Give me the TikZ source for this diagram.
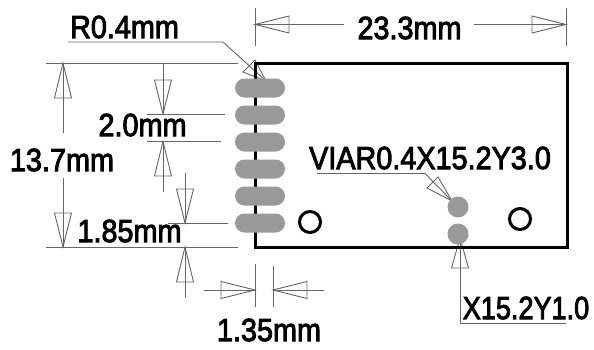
\documentclass[tikz,border=0pt]{standalone}
\usepackage{fontspec}
\setmainfont{Liberation Sans}[FakeBold=3]
\usepackage{tikz}

\begin{document}
\begin{tikzpicture}[x=1pt,y=-1pt,
  dim/.style = {draw=black!60,line width=0.9pt},
  head/.style = {draw=black!60,line width=0.9pt,line join=miter},
  label/.style = {inner sep=0pt,xscale=0.9,font=\fontsize{32}{32}\selectfont},
  pad/.style = {draw=none,fill=black!40,rounded corners=9.5pt,minimum width=50pt,minimum height=19pt,inner sep=0pt},
  via/.style = {circle,fill=black!40,minimum size=21pt,inner sep=0pt},
  hole/.style = {circle,draw,line width=3pt,minimum size=21pt,inner sep=0pt}]
\useasboundingbox (0,0) rectangle (594,349);
% leader to the corner
\coordinate (r0) at (68,42);
\coordinate (r1) at (223,42);
\coordinate (rtip) at (266,81);
\draw[dim] (r0) -- (r1) -- (rtip);
\draw[head] (rtip) -- (243,72) -- (255,60) -- cycle;
% via leaders
\coordinate (a0) at (317,173.5);
\coordinate (a1) at (425,173.5);
\coordinate (a2) at (452,201);
\draw[dim] (a0) -- (a1) -- (a2);
\draw[head] (a2) -- (438,177) -- (427,188) -- cycle;
\coordinate (b0) at (566,323);
\coordinate (b1) at (460,323);
\coordinate (b2) at (460,238);
\draw[dim] (b0) -- (b1) -- (b2);
\draw[head] (b2) -- (451.5,268) -- (468.5,268) -- cycle;
% board outline
\draw[line width=3pt] (255,63) rectangle (567,247);
% pads
\node[pad] (p1) at (260,88) {};
\node[pad] (p2) at (260,115) {};
\node[pad] (p3) at (260,142) {};
\node[pad] (p4) at (260,169) {};
\node[pad] (p5) at (260,196) {};
\node[pad] (p6) at (260,223) {};
% vias and holes
\node[via] (v1) at (458,207) {};
\node[via] (v2) at (458,234) {};
\node[hole] (h1) at (310,222) {};
\node[hole] (h2) at (520,219) {};
% 23.3mm
\draw[dim] (255,8) -- (255,46);
\draw[dim] (566,8) -- (566,46);
\draw[dim] (255,24.5) -- (344,24.5);
\draw[dim] (474,24.5) -- (566,24.5);
\draw[head] (255,24.5) -- (289,16) -- (289,33) -- cycle;
\draw[head] (566,24.5) -- (532,16) -- (532,33) -- cycle;
% 13.7mm
\draw[dim] (46,63) -- (238,63);
\draw[dim] (46,247) -- (238,247);
\draw[dim] (63,63) -- (63,133);
\draw[dim] (63,178) -- (63,247);
\draw[head] (63,63) -- (54.5,98) -- (71.5,98) -- cycle;
\draw[head] (63,247) -- (54.5,213) -- (71.5,213) -- cycle;
% 2.0mm
\draw[dim] (147,114) -- (225,114);
\draw[dim] (147,141.5) -- (221,141.5);
\draw[dim] (163,63) -- (163,114);
\draw[dim] (163,141.5) -- (163,192);
\draw[head] (163,114) -- (154.5,80) -- (171.5,80) -- cycle;
\draw[head] (163,141.5) -- (154.5,176) -- (171.5,176) -- cycle;
% 1.85mm
\draw[dim] (168,223) -- (228,223);
\draw[dim] (185,173) -- (185,223);
\draw[dim] (185,247) -- (185,298);
\draw[head] (185,223) -- (176.5,189) -- (193.5,189) -- cycle;
\draw[head] (185,247) -- (176.5,282) -- (193.5,282) -- cycle;
% 1.35mm
\draw[dim] (255,264) -- (255,307);
\draw[dim] (273,266) -- (273,307);
\draw[dim] (204,290) -- (255,290);
\draw[dim] (273,290) -- (324,290);
\draw[head] (255,290) -- (221,281.5) -- (221,298.5) -- cycle;
\draw[head] (273,290) -- (307,281.5) -- (307,298.5) -- cycle;
% labels
\node[label] (t1) at (409.5,28) {23.3mm};
\node[label] (t2) at (124.5,27) {R0.4mm};
\node[label] (t3) at (142.5,125) {2.0mm};
\node[label] (t4) at (62,160) {13.7mm};
\node[label] (t5) at (129.5,231) {1.85mm};
\node[label] (t6) at (269,330) {1.35mm};
\node[label] (t7) at (430,158) {VIAR0.4X15.2Y3.0};
\node[label,xscale=0.94] (t8) at (526,308) {X15.2Y1.0};
\end{tikzpicture}
\end{document}
